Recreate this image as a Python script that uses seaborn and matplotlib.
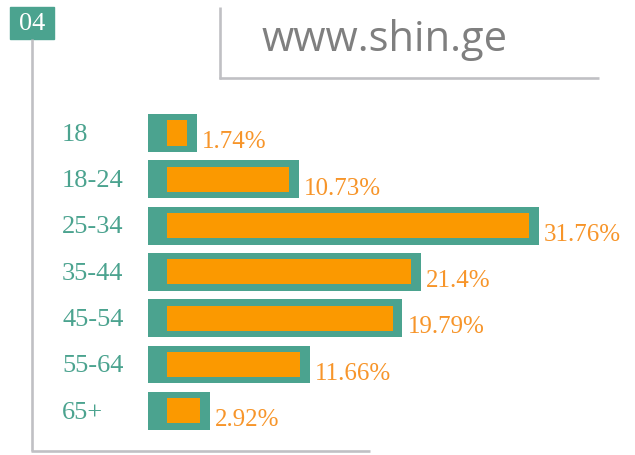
import numpy as np
import pandas as pd
import seaborn as sns
import matplotlib
matplotlib.use("Agg")
import matplotlib.pyplot as plt
from matplotlib.patches import Rectangle
from matplotlib.lines import Line2D

sns.set_theme(style="white")
plt.rcParams["font.family"] = ["Liberation Serif", "DejaVu Serif"]

# Age distribution (share of users, %)
age_groups = ["18", "18-24", "25-34", "35-44", "45-54", "55-64", "65+"]
shares = [1.74, 10.73, 31.76, 21.4, 19.79, 11.66, 2.92]
value_labels = [f"{v:g}%" for v in shares]
badge_text = "04"
site_text = "www.shin.ge"

TEAL = "#4BA38F"
ORANGE = "#FB9900"
LABEL_ORANGE = "#F7952A"
GRAY = "#C0C0C4"
TEXT_GRAY = "#7F7F7F"

W, H = 635, 455
fig = plt.figure(figsize=(W / 100, H / 100), dpi=100)
ax = fig.add_axes([0, 0, 1, 1])

df = pd.DataFrame({"age": age_groups, "share": shares})
pad_left, pad_right = 1.65, 0.85
df["frame"] = df["share"] + pad_left + pad_right

# teal frame behind each bar, then the orange value bar
sns.barplot(data=df, x="frame", y="age", orient="h", color=TEAL, width=0.82,
            saturation=1, errorbar=None, left=-pad_left, linewidth=0, ax=ax)
sns.barplot(data=df, x="share", y="age", orient="h", color=ORANGE, width=0.54,
            saturation=1, errorbar=None, linewidth=0, ax=ax)

px_per_unit = 11.4
x0_px = 167
row_px, first_row_px = 46.3, 133
ax.set_xlim(-x0_px / px_per_unit, (W - x0_px) / px_per_unit)
ax.set_ylim((H - first_row_px) / row_px, -first_row_px / row_px)
ax.axis("off")

for i, (v, lab) in enumerate(zip(shares, value_labels)):
    ax.text(v + pad_right + 0.45, i + 0.2, lab, color=LABEL_ORANGE,
            fontsize=18, ha="left", va="center")

for i, cat in enumerate(age_groups):
    ax.text((62 - x0_px) / px_per_unit, i + 0.04, cat, color=TEAL,
            fontsize=19, ha="left", va="center")

# frame lines
def fig_line(xs, ys):
    fig.add_artist(Line2D([x / W for x in xs], [1 - y / H for y in ys],
                          color=GRAY, lw=1.9, transform=fig.transFigure,
                          solid_capstyle="butt"))

fig_line([32, 32], [39, 451])
fig_line([31, 370], [451, 451])
fig_line([220, 220], [7, 79])
fig_line([219, 599], [78, 78])

# badge
fig.add_artist(Rectangle((10 / W, 1 - 39 / H), 44 / W, 32 / H, color=TEAL,
                         transform=fig.transFigure))
fig.text(32 / W, 1 - 24 / H, badge_text, color="white", fontsize=19,
         ha="center", va="center")

fig.text(262 / W, 1 - 51 / H, site_text, color=TEXT_GRAY, fontsize=30,
         family=["Open Sans", "DejaVu Sans"], ha="left", va="baseline")

fig.savefig("out.png", dpi=100)
